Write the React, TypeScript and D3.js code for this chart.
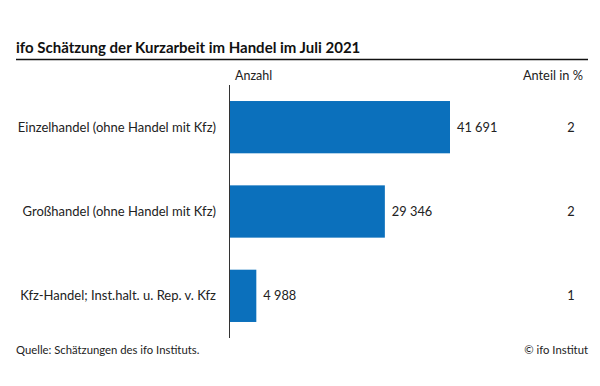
import React from "react";
import * as d3 from "d3";

const categories = [
  "Einzelhandel (ohne Handel mit Kfz)",
  "Großhandel (ohne Handel mit Kfz)",
  "Kfz-Handel; Inst.halt. u. Rep. v. Kfz",
];
const counts = [41691, 29346, 4988];
const shares = [2, 2, 1];
const countLabels = ["41 691", "29 346", "4 988"];

const title = "ifo Schätzung der Kurzarbeit im Handel im Juli 2021";
const source = "Quelle: Schätzungen des ifo Instituts.";
const copyright = "© ifo Institut";

const FONT = "Lato, 'Open Sans', sans-serif";
const TEXT = "#222";
const BLUE = "#0b70bc";

export default function App() {
  const W = 600;
  const H = 386;
  const axisX = 229.5;
  const x = d3.scaleLinear().domain([0, d3.max(counts) as number]).range([230, 450]);
  const y = d3
    .scaleBand<string>()
    .domain(categories)
    .range([85, 338])
    .paddingInner(0.38)
    .paddingOuter(0.19);

  return (
    <svg
      width={W}
      height={H}
      style={{ position: "absolute", left: 0, top: 0, background: "#fff" }}
      fontFamily={FONT}
    >
      <rect x={0} y={0} width={W} height={H} fill="#fff" />
      <text x={16} y={52.5} fontSize={15} fontWeight={700} fill="#111">
        {title}
      </text>
      <line x1={16} x2={588} y1={59.5} y2={59.5} stroke="#111" strokeWidth={1.6} />
      <text x={235} y={80} fontSize={12.5} fill={TEXT}>
        Anzahl
      </text>
      <text x={583} y={80} fontSize={12.8} fill={TEXT} textAnchor="end">
        Anteil in %
      </text>

      {categories.map((c, i) => {
        const by = y(c) as number;
        const cy = by + y.bandwidth() / 2;
        return (
          <g key={c}>
            <rect x={x(0)} y={by} width={x(counts[i]) - x(0)} height={y.bandwidth()} fill={BLUE} />
            <text x={216} y={cy} dy="0.35em" fontSize={13} fill={TEXT} textAnchor="end">
              {c}
            </text>
            <text x={x(counts[i]) + 7} y={cy} dy="0.35em" fontSize={12.8} fill={TEXT}>
              {countLabels[i]}
            </text>
            <text x={571} y={cy} dy="0.35em" fontSize={12.8} fill={TEXT} textAnchor="middle">
              {shares[i]}
            </text>
          </g>
        );
      })}

      <line x1={axisX} x2={axisX} y1={85} y2={338} stroke="#333" strokeWidth={1} />

      <text x={16} y={354} fontSize={11.3} fill={TEXT}>
        {source}
      </text>
      <text x={588} y={354} fontSize={11.3} fill={TEXT} textAnchor="end">
        {copyright}
      </text>
    </svg>
  );
}
